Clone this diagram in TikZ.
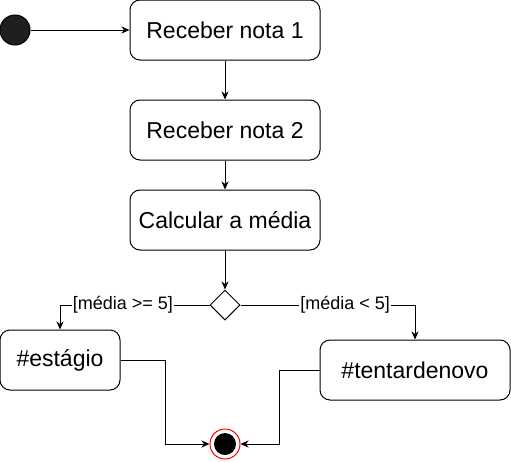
\documentclass[tikz,border=0pt]{standalone}
\usepackage{fontspec}
\setmainfont{Liberation Sans}
\usetikzlibrary{shapes.geometric,arrows.meta}

\begin{document}
\begin{tikzpicture}[x=1pt, y=-1pt, line width=1pt,
    activity/.style={draw, rounded corners=10pt, fill=white,
        minimum width=190pt, minimum height=60pt,
        font=\fontsize{23}{27}\selectfont},
    flow/.style={-{Stealth[length=8pt, width=7pt, inset=2.5pt]}},
    guard/.style={fill=white, inner sep=1pt, font=\fontsize{18}{21}\selectfont}]
  \useasboundingbox (0,0) rectangle (511,461);

  % Start and end
  \node[circle, draw=black, fill=black!88, minimum size=30pt, inner sep=0pt]
        (start) at (15,30) {};
  \node[circle, draw=red, fill=white, minimum size=30pt, inner sep=0pt,
        path picture={\fill[black] (path picture bounding box.center) circle (11pt);}]
        (stop) at (225,444) {};

  % Activities
  \node[activity] (nota1) at (225,30)  {Receber nota 1};
  \node[activity] (nota2) at (225,130) {Receber nota 2};
  \node[activity] (media) at (225,220) {Calcular a média};
  \node[activity, minimum width=120pt] (estagio) at (60,360) {\#estágio};
  \node[activity] (denovo) at (415,370) {\#tentardenovo};

  % Decision
  \node[diamond, draw, fill=white, minimum width=30pt, minimum height=30pt,
        inner sep=0pt] (decide) at (225,305) {};

  % Flows
  \draw[flow] (start) -- (nota1);
  \draw[flow] (nota1) -- (nota2);
  \draw[flow] (nota2) -- (media);
  \draw[flow] (media) -- (decide);
  \draw[flow] (decide.west) -| node[guard, pos=0.29] {[média >= 5]} (estagio.north);
  \draw[flow] (decide.east) -| node[guard, pos=0.3] {[média < 5]} (denovo.north);
  \draw[flow] (estagio.east) -- ++(45,0) |- (stop.west);
  \draw[flow] (denovo.west) -- ++(-40,0) |- (stop.east);
\end{tikzpicture}
\end{document}
